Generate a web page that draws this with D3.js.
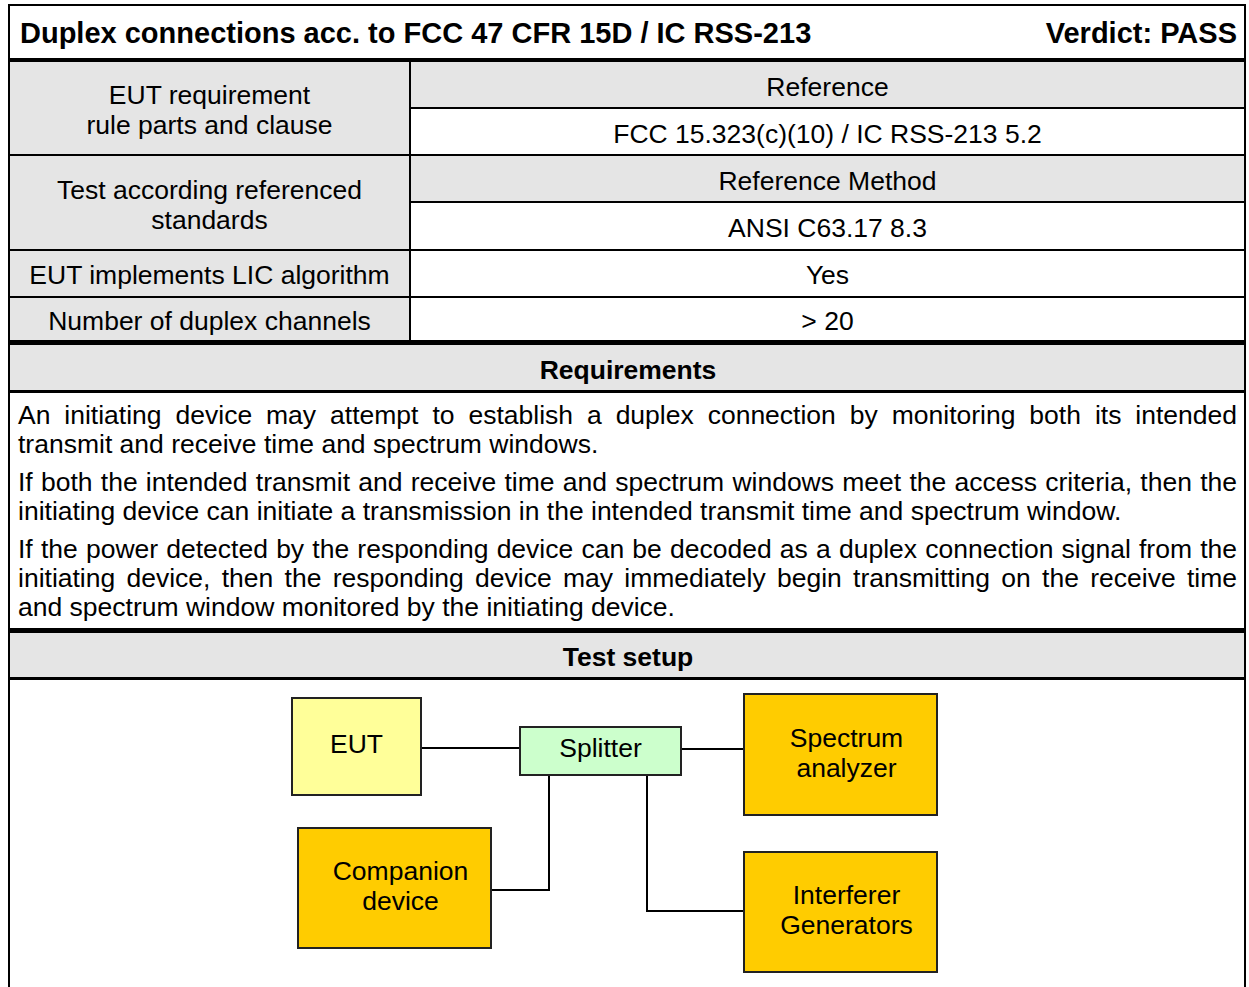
<!DOCTYPE html>
<html><head><meta charset="utf-8">
<script src="https://cdn.jsdelivr.net/npm/d3@7"></script>
<style>
html,body{margin:0;padding:0;background:#fff;}
svg{display:block;}
text{font-family:"Liberation Sans",Arial,Helvetica,sans-serif;fill:#000;}
</style>
</head><body>
<svg id="c" width="1249" height="987"></svg>
<script>
// ---------- content ----------
const titleText = "Duplex connections acc. to FCC 47 CFR 15D / IC RSS-213";
const verdictText = "Verdict: PASS";
const infoLabels = [
  ["EUT requirement", "rule parts and clause"],
  ["Test according referenced", "standards"],
  ["EUT implements LIC algorithm"],
  ["Number of duplex channels"]
];
const infoHeads = ["Reference", "Reference Method", null, null];
const infoValues = ["FCC 15.323(c)(10) / IC RSS-213 5.2", "ANSI C63.17 8.3", "Yes", "> 20"];
const requirementsTitle = "Requirements";
const requirementLines = [
  // [text, justified, paragraph index]
  ["An initiating device may attempt to establish a duplex connection by monitoring both its intended", true, 0],
  ["transmit and receive time and spectrum windows.", false, 0],
  ["If both the intended transmit and receive time and spectrum windows meet the access criteria, then the", true, 1],
  ["initiating device can initiate a transmission in the intended transmit time and spectrum window.", false, 1],
  ["If the power detected by the responding device can be decoded as a duplex connection signal from the", true, 2],
  ["initiating device, then the responding device may immediately begin transmitting on the receive time", true, 2],
  ["and spectrum window monitored by the initiating device.", false, 2]
];
const setupTitle = "Test setup";
const setupBoxNames = ["EUT", "Splitter", "Spectrum analyzer", "Companion device", "Interferer Generators"];
const setupBoxLabels = [["EUT"], ["Splitter"], ["Spectrum", "analyzer"], ["Companion", "device"], ["Interferer", "Generators"]];
const setupBoxKinds = ["eut", "splitter", "instrument", "instrument", "instrument"];
const setupLinks = [["EUT", "Splitter"], ["Splitter", "Spectrum analyzer"], ["Splitter", "Companion device"], ["Splitter", "Interferer Generators"]];

// ---------- layout & style ----------
const L = { left: 9, right: 1245, top: 5, bottom: 987, split: 410 };
const rowEdges = [61, 108, 155, 202, 250, 297, 342];
const reqEdges = [342, 392, 631, 679];
const gray = "#e5e5e5";
const fs = 26.5, fsTitle = 29;
const boxFill = { eut: "#ffff99", splitter: "#ccffcc", instrument: "#ffcc00" };
const boxGeom = {
  "EUT": { x0: 292, x1: 421, y0: 698, y1: 795, tx: 0, ty: [753] },
  "Splitter": { x0: 520, x1: 681, y0: 727, y1: 775, tx: 0, ty: [757] },
  "Spectrum analyzer": { x0: 744, x1: 937, y0: 694, y1: 815, tx: 6, ty: [747, 777] },
  "Companion device": { x0: 298, x1: 491, y0: 828, y1: 948, tx: 6, ty: [880, 910] },
  "Interferer Generators": { x0: 744, x1: 937, y0: 852, y1: 972, tx: 6, ty: [904, 934] }
};
const linkRoute = {
  "EUT>Splitter": { kind: "h", y: 748 },
  "Splitter>Spectrum analyzer": { kind: "h", y: 749 },
  "Splitter>Companion device": { kind: "elbow", x: 549, y: 890 },
  "Splitter>Interferer Generators": { kind: "elbow", x: 647, y: 911 }
};

const svg = d3.select("#c");
const colMidL = (L.left + L.split) / 2, colMidR = (L.split + L.right) / 2;

// ---------- backgrounds ----------
const bg = svg.append("g");
bg.append("rect").attr("x", L.left).attr("y", rowEdges[0]).attr("width", L.split - L.left).attr("height", rowEdges[6] - rowEdges[0]).attr("fill", gray);
const rightHeadRows = [[rowEdges[0], rowEdges[1]], [rowEdges[2], rowEdges[3]]];
bg.selectAll(".rh").data(rightHeadRows).join("rect")
  .attr("x", L.split).attr("y", d => d[0]).attr("width", L.right - L.split).attr("height", d => d[1] - d[0]).attr("fill", gray);
bg.selectAll(".sh").data([[reqEdges[0], reqEdges[1]], [reqEdges[2], reqEdges[3]]]).join("rect")
  .attr("x", L.left).attr("y", d => d[0]).attr("width", L.right - L.left).attr("height", d => d[1] - d[0]).attr("fill", gray);

// ---------- texts ----------
const tg = svg.append("g");
tg.append("text").attr("x", 20).attr("y", 43).attr("font-size", fsTitle).attr("font-weight", "bold").text(titleText);
tg.append("text").attr("x", 1237).attr("y", 43).attr("font-size", fsTitle).attr("font-weight", "bold").attr("text-anchor", "end").text(verdictText);

const leftBlocks = [[rowEdges[0], rowEdges[2]], [rowEdges[2], rowEdges[4]], [rowEdges[4], rowEdges[5]], [rowEdges[5], rowEdges[6]]];
infoLabels.forEach((lines, i) => {
  const [a, b] = leftBlocks[i];
  const mid = (a + b) / 2;
  const lh = 30;
  const shift = lines.length > 1 ? 1.5 : 0.5;
  lines.forEach((t, j) => {
    const cy = mid + (j - (lines.length - 1) / 2) * lh + shift;
    tg.append("text").attr("x", colMidL).attr("y", cy + 0.36 * fs).attr("font-size", fs).attr("text-anchor", "middle").text(t);
  });
});
infoValues.forEach((v, i) => {
  const [a, b] = leftBlocks[i];
  if (infoHeads[i]) {
    const m1 = (a + (a + b) / 2) / 2, m2 = ((a + b) / 2 + b) / 2;
    tg.append("text").attr("x", colMidR).attr("y", m1 + 0.36 * fs + 1.5).attr("font-size", fs).attr("text-anchor", "middle").text(infoHeads[i]);
    tg.append("text").attr("x", colMidR).attr("y", m2 + 0.36 * fs + 1.5).attr("font-size", fs).attr("text-anchor", "middle").text(v);
  } else {
    tg.append("text").attr("x", colMidR).attr("y", (a + b) / 2 + 0.36 * fs + 0.5).attr("font-size", fs).attr("text-anchor", "middle").text(v);
  }
});

tg.append("text").attr("x", (L.left + L.right) / 2 + 1).attr("y", 379).attr("font-size", fs).attr("font-weight", "bold").attr("text-anchor", "middle").text(requirementsTitle);
tg.append("text").attr("x", (L.left + L.right) / 2 + 1).attr("y", 666).attr("font-size", fs).attr("font-weight", "bold").attr("text-anchor", "middle").text(setupTitle);

// requirement paragraphs with justification
const txL = 18, txR = 1237;
const lineGap = 29, paraGap = 38;
let by = 424;
requirementLines.forEach((ln, i) => {
  if (i > 0) by += (ln[2] !== requirementLines[i - 1][2]) ? paraGap : lineGap;
  const [t, just] = ln;
  if (!just) {
    tg.append("text").attr("x", txL).attr("y", by).attr("font-size", fs).text(t);
    return;
  }
  const words = t.split(" ");
  const nodes = words.map(w => tg.append("text").attr("y", by).attr("font-size", fs).text(w));
  const widths = nodes.map(n => n.node().getComputedTextLength());
  const total = d3.sum(widths);
  const gap = (txR - txL - total) / (words.length - 1);
  let cx = txL;
  nodes.forEach((n, k) => { n.attr("x", cx); cx += widths[k] + gap; });
});

// ---------- diagram ----------
const dg = svg.append("g");
const geo = name => boxGeom[name];
setupLinks.forEach(([a, b]) => {
  const r = linkRoute[a + ">" + b];
  const A = geo(a), B = geo(b);
  const p = d3.path();
  if (r.kind === "h") {
    p.moveTo(A.x1, r.y); p.lineTo(B.x0, r.y);
  } else {
    p.moveTo(r.x, A.y1); p.lineTo(r.x, r.y);
    p.lineTo(B.x1 < r.x ? B.x1 : B.x0, r.y);
  }
  dg.append("path").attr("d", p.toString()).attr("fill", "none").attr("stroke", "#000").attr("stroke-width", 2);
});
setupBoxNames.forEach((name, i) => {
  const g = geo(name);
  dg.append("rect").attr("x", g.x0).attr("y", g.y0).attr("width", g.x1 - g.x0).attr("height", g.y1 - g.y0)
    .attr("fill", boxFill[setupBoxKinds[i]]).attr("stroke", "#222").attr("stroke-width", 2);
  setupBoxLabels[i].forEach((t, j) => {
    dg.append("text").attr("x", (g.x0 + g.x1) / 2 + g.tx).attr("y", g.ty[j]).attr("font-size", fs).attr("text-anchor", "middle").text(t);
  });
});

// ---------- rules ----------
const lg = svg.append("g").attr("stroke", "#000");
const hLines = [
  [L.left, L.right, L.top, 2],
  [L.left, L.right, 60, 4],
  [L.split, L.right, rowEdges[1], 2],
  [L.left, L.right, rowEdges[2], 2],
  [L.split, L.right, rowEdges[3], 2],
  [L.left, L.right, rowEdges[4], 2],
  [L.left, L.right, rowEdges[5], 2],
  [L.left, L.right, 342.5, 5],
  [L.left, L.right, 391.5, 3],
  [L.left, L.right, 630.5, 5],
  [L.left, L.right, 678.5, 3]
];
lg.selectAll(".h").data(hLines).join("line")
  .attr("x1", d => d[0] - 1).attr("x2", d => d[1] + 1).attr("y1", d => d[2]).attr("y2", d => d[2]).attr("stroke-width", d => d[3]);
const vLines = [
  [L.left, L.top, L.bottom, 2],
  [L.right, L.top, L.bottom, 2],
  [L.split, 60, 342, 2]
];
lg.selectAll(".v").data(vLines).join("line")
  .attr("x1", d => d[0]).attr("x2", d => d[0]).attr("y1", d => d[1]).attr("y2", d => d[2]).attr("stroke-width", d => d[3]);
</script>
</body></html>
